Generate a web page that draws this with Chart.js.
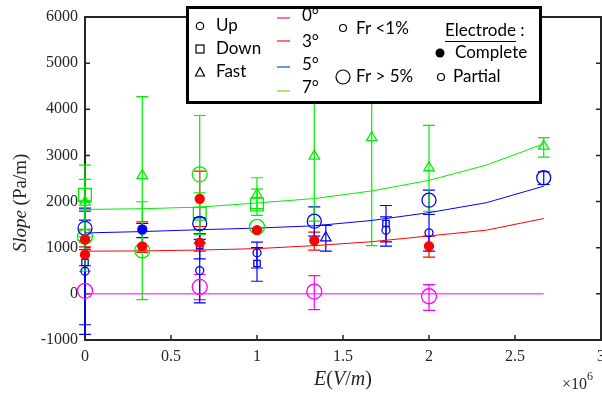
<!DOCTYPE html>
<html><head><meta charset="utf-8">
<script src="https://cdn.jsdelivr.net/npm/chart.js@4.4.0/dist/chart.umd.min.js"></script>
<style>
html,body{margin:0;padding:0;overflow:hidden;background:#fff;width:602px;height:394px}
#wrap{position:relative;width:612px;height:394px}
</style></head>
<body><div id="wrap"><canvas id="c" width="612" height="394"></canvas></div>
<script>
// ---- axis ticks ----
const xTickVals = [0, 0.5, 1, 1.5, 2, 2.5, 3];
const xTickLabels = ['0', '0.5', '1', '1.5', '2', '2.5', '3'];
const yTickVals = [-1000, 0, 1000, 2000, 3000, 4000, 5000, 6000];

// ---- fit curves (E in 10^6 V/m) ----
const fitE = [0, 0.333, 0.667, 1, 1.333, 1.667, 2, 2.333, 2.667];
const fit0deg = [0, 0, 0, 0, 0, 0, 0, 0, 0];
const fit3deg = [925, 930, 950, 980, 1045, 1130, 1255, 1380, 1633];
const fit5deg = [1320, 1350, 1390, 1425, 1475, 1590, 1760, 1975, 2334];
const fit7deg = [1830, 1845, 1880, 1970, 2065, 2230, 2460, 2790, 3250];

// ---- 0° Up, Fr>5% ----
const up0E = [0, 0.667, 1.333, 2];
const up0Y = [65, 150, 50, -52];
const up0Lo = [65, -124, -340, -356];
const up0Hi = [65, 420, 397, 200];

// ---- 3° complete electrode ----
const full3E = [0, 0, 0.333, 0.667, 0.667, 1, 1.333, 2];
const full3Y = [1180, 850, 1030, 2060, 1110, 1380, 1156, 1033];
const full3Lo = [960, 614, 900, 1460, 925, 1380, 946, 795];
const full3Hi = [1400, 1020, 1560, 2660, 1300, 1380, 1337, 1250];

// ---- 5° complete electrode ----
const full5E = [0.333];
const full5Y = [1395];
const full5Lo = [1220];
const full5Hi = [1525];

// ---- 5° Up, Fr>5% ----
const up5BigE = [0, 0.667, 1.333, 2, 2.667];
const up5BigY = [1420, 1525, 1575, 2030, 2516];
const up5BigLo = [1150, 1180, 1250, 1720, 2370];
const up5BigHi = [1790, 1650, 1887, 2247, 2646];

// ---- 5° Up, Fr<1% ----
const up5SmE = [0, 0.667, 1, 1.75, 2];
const up5SmY = [490, 505, 890, 1380, 1323];
const up5SmLo = [-880, -195, 560, 1033, 925];
const up5SmHi = [1860, 1100, 1120, 1670, 1720];

// ---- 5° Down, Fr<1% ----
const down5E = [0, 0.667, 1, 1.75];
const down5Y = [680, 1047, 657, 1525];
const down5Lo = [-670, 760, 273, 1128];
const down5Hi = [1600, 1300, 1000, 1915];

// ---- 5° Fast ----
const fast5E = [1.4];
const fast5Y = [1215];
const fast5Lo = [925];
const fast5Hi = [1482];

// ---- 7° Up, Fr>5% ----
const up7E = [0, 0.333, 0.667, 1];
const up7Y = [1236, 940, 2590, 1453];
const up7Lo = [490, -124, 1290, 1453];
const up7Hi = [1990, 1996, 3865, 1453];

// ---- 7° Down, Fr>5% ----
const down7E = [0, 0.667, 1];
const down7Y = [2150, 1735, 1937];
const down7Lo = [1820, 1400, 1700];
const down7Hi = [2480, 2190, 2270];

// ---- 7° Fast ----
const fast7E = [0, 0.333, 1, 1.333, 1.667, 2, 2.667];
const fast7Y = [1990, 2563, 2153, 2985, 3384, 2733, 3200];
const fast7Lo = [1236, 950, 1850, 1575, 1045, 1790, 2963];
const fast7Hi = [2790, 4273, 2516, 6500, 6500, 3650, 3384];

const MAG = '#ff00ff', RED = '#ff0000', BLUE = '#0000ff', GREEN = '#00ee00';

function pts(E, Y) { return E.map((e, i) => ({ x: e, y: Y[i] })); }
function fitLine(vals, color) {
  return { type: 'line', data: pts(fitE, vals), borderColor: color, borderWidth: 1,
    pointRadius: 0, showLine: true, fill: false, tension: 0, clip: false, order: 5 };
}
function marks(E, Y, Lo, Hi, color, style, r, filled) {
  return { type: 'scatter', data: pts(E, Y), errLo: Lo, errHi: Hi, errE: E,
    borderColor: color, backgroundColor: filled ? color : 'rgba(0,0,0,0)',
    pointStyle: style, pointRadius: r, pointBorderWidth: 1.3, showLine: false, clip: false, order: 1 };
}

const datasets = [
  fitLine(fit0deg, MAG), fitLine(fit3deg, RED), fitLine(fit5deg, BLUE), fitLine(fit7deg, GREEN),
  marks(up0E, up0Y, up0Lo, up0Hi, MAG, 'circle', 7.5, false),
  marks(full3E, full3Y, full3Lo, full3Hi, RED, 'circle', 4.5, true),
  marks(full5E, full5Y, full5Lo, full5Hi, BLUE, 'circle', 4.5, true),
  marks(up5BigE, up5BigY, up5BigLo, up5BigHi, BLUE, 'circle', 7, false),
  marks(up5SmE, up5SmY, up5SmLo, up5SmHi, BLUE, 'circle', 4, false),
  marks(down5E, down5Y, down5Lo, down5Hi, BLUE, 'rect', 4.5, false),
  marks(fast5E, fast5Y, fast5Lo, fast5Hi, BLUE, 'triangle', 6, false),
  marks(up7E, up7Y, up7Lo, up7Hi, GREEN, 'circle', 7.5, false),
  marks(down7E, down7Y, down7Lo, down7Hi, GREEN, 'rect', 9, false),
  marks(fast7E, fast7Y, fast7Lo, fast7Hi, GREEN, 'triangle', 6, false)
];

function runs(ctx, parts, x, y, align) {
  let total = 0;
  parts.forEach(p => { ctx.font = p[1]; p.w = ctx.measureText(p[0]).width; total += p.w; });
  let cx = align === 'center' ? x - total / 2 : x;
  ctx.textAlign = 'left';
  parts.forEach(p => { ctx.font = p[1]; ctx.fillText(p[0], cx, y); cx += p.w; });
  return total;
}

const decor = {
  id: 'decor',
  beforeDatasetsDraw(chart) {
    const { ctx, chartArea: a, scales: { x, y } } = chart;
    ctx.save();
    ctx.strokeStyle = '#262626';
    ctx.lineWidth = 2;
    ctx.strokeRect(a.left, a.top, a.right - a.left, a.bottom - a.top);
    ctx.lineWidth = 1.5;
    ctx.beginPath();
    yTickVals.forEach(v => {
      const py = y.getPixelForValue(v);
      ctx.moveTo(a.left, py); ctx.lineTo(a.left + 5, py);
      ctx.moveTo(a.right, py); ctx.lineTo(a.right - 5, py);
    });
    xTickVals.forEach(v => {
      const px = x.getPixelForValue(v);
      ctx.moveTo(px, a.bottom); ctx.lineTo(px, a.bottom - 5);
    });
    ctx.stroke();
    ctx.restore();
    ctx.save();
    ctx.beginPath();
    ctx.rect(0, a.top, chart.width, a.bottom - a.top);
    ctx.clip();
    ctx.lineWidth = 1.2;
    chart.data.datasets.forEach(ds => {
      if (!ds.errLo) return;
      ctx.strokeStyle = ds.borderColor;
      ds.errE.forEach((e, i) => {
        const lo = ds.errLo[i], hi = ds.errHi[i];
        if (lo === hi) return;
        const px = x.getPixelForValue(e);
        const pl = y.getPixelForValue(lo), ph = y.getPixelForValue(hi);
        ctx.beginPath();
        ctx.moveTo(px, pl); ctx.lineTo(px, ph);
        ctx.moveTo(px - 6, pl); ctx.lineTo(px + 6, pl);
        ctx.moveTo(px - 6, ph); ctx.lineTo(px + 6, ph);
        ctx.stroke();
      });
    });
    ctx.restore();
  },
  afterDraw(chart) {
    const { ctx } = chart;
    ctx.save();
    ctx.fillStyle = '#262626';
    ctx.textBaseline = 'alphabetic';
    const S = '20px "Liberation Serif"', I = 'italic 20px "Liberation Serif"';
    runs(ctx, [['E', I], ['(', S], ['V', I], ['/', S], ['m', I], [')', S]], 343, 385, 'center');
    runs(ctx, [['\u00d710', '16px "Liberation Serif"']], 562, 389, 'left');
    runs(ctx, [['6', '12px "Liberation Serif"']], 587, 380, 'left');
    const S2 = '19px "Liberation Serif"', I2 = 'italic 19px "Liberation Serif"';
    ctx.translate(26, 203);
    ctx.rotate(-Math.PI / 2);
    runs(ctx, [['Slope', I2], [' (Pa/m)', S2]], 0, 0, 'center');
    ctx.restore();

    // legend box
    ctx.save();
    ctx.fillStyle = '#fff';
    ctx.fillRect(187, 7, 354, 96);
    ctx.lineWidth = 3;
    ctx.strokeStyle = '#000';
    ctx.strokeRect(187.5, 7.5, 353, 95);
    ctx.fillStyle = '#000';
    ctx.strokeStyle = '#000';
    ctx.lineWidth = 1.2;
    ctx.textBaseline = 'middle';
    ctx.textAlign = 'left';
    ctx.font = '17px Lato';
    ctx.beginPath(); ctx.arc(200, 26, 3.7, 0, 2 * Math.PI); ctx.stroke();
    ctx.strokeRect(196, 45, 8, 8);
    ctx.beginPath(); ctx.moveTo(200, 67.5); ctx.lineTo(204.5, 76); ctx.lineTo(195.5, 76); ctx.closePath(); ctx.stroke();
    ctx.fillText('Up', 216, 26);
    ctx.fillText('Down', 216, 49);
    ctx.fillText('Fast', 216, 72);
    const lc = [['#ff3c8c', 18, '0\u00b0', 16], ['#ff4040', 41, '3\u00b0', 42], ['#3377cc', 67, '5\u00b0', 65], ['#99dd55', 91, '7\u00b0', 88]];
    lc.forEach(l => {
      ctx.strokeStyle = l[0]; ctx.lineWidth = 1.5;
      ctx.beginPath(); ctx.moveTo(277, l[1]); ctx.lineTo(290, l[1]); ctx.stroke();
      ctx.fillText(l[2], 302, l[3]);
    });
    ctx.strokeStyle = '#000'; ctx.lineWidth = 1.2;
    ctx.beginPath(); ctx.arc(343, 28, 3.5, 0, 2 * Math.PI); ctx.stroke();
    ctx.fillText('Fr <1%', 356, 29);
    ctx.beginPath(); ctx.arc(343, 77, 7, 0, 2 * Math.PI); ctx.stroke();
    ctx.fillText('Fr > 5%', 356, 77);
    const w = ctx.measureText('Electrode').width;
    ctx.fillText('Electrode', 445, 31);
    ctx.fillText(' :', 445 + w, 31);
    ctx.lineWidth = 1;
    ctx.beginPath(); ctx.moveTo(445, 41.5); ctx.lineTo(445 + w, 41.5); ctx.stroke();
    ctx.beginPath(); ctx.arc(440, 53, 4.5, 0, 2 * Math.PI); ctx.fill();
    ctx.fillText('Complete', 455, 53);
    ctx.lineWidth = 1.2;
    ctx.beginPath(); ctx.arc(441, 77, 3.5, 0, 2 * Math.PI); ctx.stroke();
    ctx.fillText('Partial', 453, 77);
    ctx.restore();
  }
};

new Chart(document.getElementById('c'), {
  type: 'scatter',
  data: { datasets },
  options: {
    responsive: false,
    animation: false,
    layout: { padding: { top: 17, right: 7, left: 0, bottom: 0 } },
    plugins: { legend: { display: false }, tooltip: { enabled: false } },
    scales: {
      x: {
        type: 'linear', min: 0, max: 3,
        grid: { display: false, drawTicks: false },
        border: { display: false },
        afterBuildTicks: s => { s.ticks = xTickVals.map(v => ({ value: v })); },
        afterFit: s => { s.height = 54; },
        ticks: { autoSkip: false, maxRotation: 0, padding: 7, color: '#262626',
          font: { family: 'Liberation Serif', size: 16 },
          callback: v => xTickLabels[xTickVals.indexOf(v)] }
      },
      y: {
        type: 'linear', min: -1000, max: 6000,
        grid: { display: false, drawTicks: false },
        border: { display: false },
        afterBuildTicks: s => { s.ticks = yTickVals.map(v => ({ value: v })); },
        afterFit: s => { s.width = 85; },
        ticks: { padding: 7, color: '#262626',
          font: { family: 'Liberation Serif', size: 16 },
          callback: v => String(v) }
      }
    }
  },
  plugins: [decor]
});
</script>
</body></html>
